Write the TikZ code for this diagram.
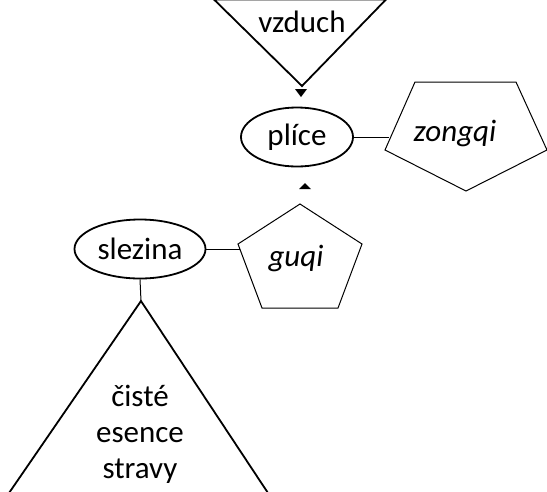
\documentclass[tikz,border=0pt]{standalone}
\usepackage{fontspec}
\setmainfont{Carlito}
\usetikzlibrary{shapes.geometric}
\begin{document}
\begin{tikzpicture}[x=1pt,y=-1pt,
  txt/.style={font=\fontsize{31}{36}\selectfont, inner sep=0pt, align=center},
  organ/.style={ellipse, draw, line width=1.8pt, inner sep=0pt, font=\fontsize{31}{36}\selectfont},
  thin/.style={line width=1pt},
  tri/.style={line width=1.8pt, line join=miter},
  penta/.style={line width=1pt, line join=miter},
  tip/.style={fill=black}]
\useasboundingbox (0,0) rectangle (547,491);
% top inverted triangle (vzduch)
\coordinate (vtl) at (214,-0.5);
\coordinate (vtr) at (386,-0.5);
\coordinate (vap) at (302,86);
\draw[tri] (vtl) -- (vtr) -- (vap) -- cycle;
\node[txt] (vz) at (302,22) {vzduch};
% down arrowhead
\fill[tip] (295,89) -- (307,89) -- (301,97) -- cycle;
% plice
\node[organ, minimum width=112pt, minimum height=59pt] (pl) at (297,137) {plíce};
% zongqi pentagon
\coordinate (z1) at (415,82);
\coordinate (z2) at (516,82);
\coordinate (z3) at (547,150);
\coordinate (z4) at (466,191);
\coordinate (z5) at (385,150);
\draw[penta] (z1) -- (z2) -- (z3) -- (z4) -- (z5) -- cycle;
\node[txt, font=\fontsize{31}{36}\selectfont\itshape] (zq) at (455,133) {zongqi};
\coordinate (zin) at (389,137);
\draw[thin] (pl.east) -- (zin);
% up arrowhead
\fill[tip] (299,189) -- (311,189) -- (305,183) -- cycle;
% guqi pentagon
\coordinate (g1) at (300,204);
\coordinate (g2) at (362,244);
\coordinate (g3) at (338,308);
\coordinate (g4) at (262,308);
\coordinate (g5) at (238,244);
\draw[penta] (g1) -- (g2) -- (g3) -- (g4) -- (g5) -- cycle;
\node[txt, font=\fontsize{31}{36}\selectfont\itshape] (gq) at (296,258) {guqi};
% slezina
\node[organ, minimum width=131pt, minimum height=59pt] (sl) at (140,249) {slezina};
\coordinate (gin) at (240,249);
\draw[thin] (sl.east) -- (gin);
% bottom triangle
\coordinate (bap) at (141,301);
\coordinate (bl) at (9,493);
\coordinate (br) at (268,493);
\draw[tri] (bl) -- (bap) -- (br);
\draw[thin] (sl.south) -- (bap);
\node[txt] (ce) at (140,434) {čisté\\esence\\stravy};
\end{tikzpicture}
\end{document}
